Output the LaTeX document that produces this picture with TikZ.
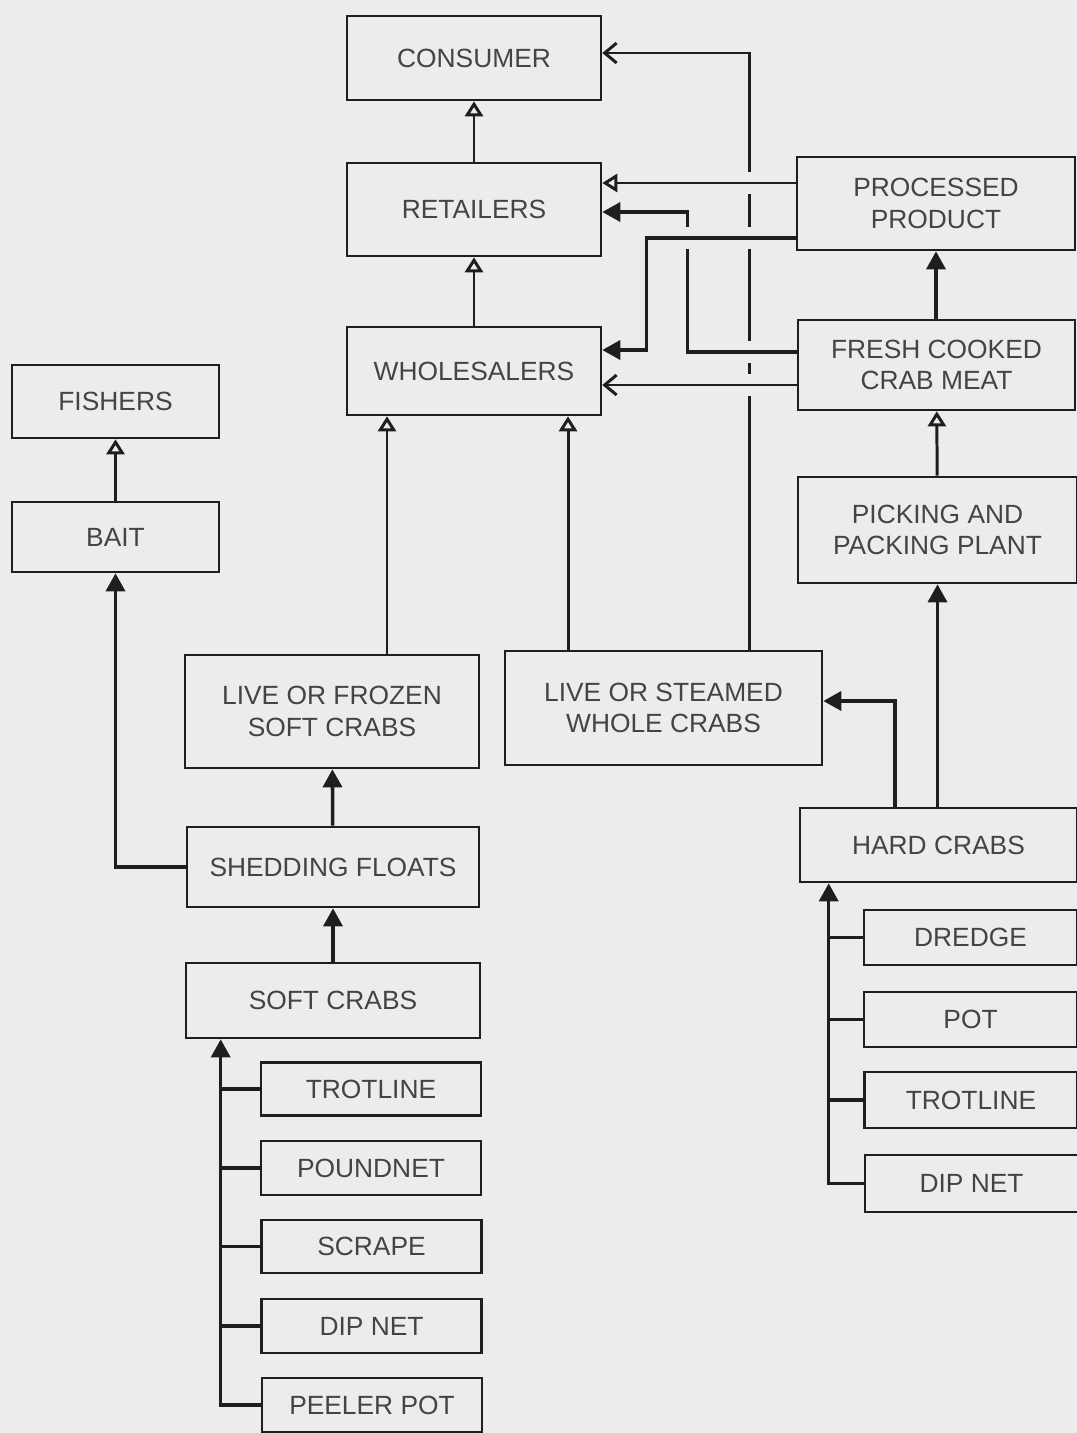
\documentclass[tikz,border=0pt]{standalone}
\usepackage{fontspec}
\setmainfont{Liberation Sans}
\usepackage{tikz}
\usetikzlibrary{arrows.meta, positioning, calc, backgrounds}
\definecolor{paper}{RGB}{236,236,236}
\definecolor{ink}{RGB}{30,30,30}
\definecolor{txt}{RGB}{68,68,68}
\tikzset{
  box/.style={rectangle, draw=ink, fill=paper, line width=1.5pt,
    align=center, inner sep=0pt, text=txt,
    font=\fontsize{15}{18}\selectfont},
  arrow/.style={-{Triangle[length=0.36cm, width=0.38cm]}, line width=2pt, color=ink},
  openarrow/.style={-{Triangle[open, length=0.3cm, width=0.36cm]}, line width=1.7pt, color=ink},
  barbarrow/.style={-{Straight Barb[length=0.24cm, width=0.4cm]}, line width=1.7pt, color=ink},
  line/.style={line width=2pt, color=ink},
  halo/.style={preaction={draw=paper, line width=12pt, -}}
}

\begin{document}
\begin{tikzpicture}[x=0.02cm, y=-0.02cm]
  \useasboundingbox (0,0) rectangle (1077,1433);

  % Market side
  \node[box, minimum width=5.08cm, minimum height=1.68cm] (consumer) at (474,58) {CONSUMER};
  \node[box, minimum width=5.08cm, minimum height=1.86cm] (retailers) at (474,209.5) {RETAILERS};
  \node[box, minimum width=5.08cm, minimum height=1.76cm] (wholesalers) at (474,371) {WHOLESALERS};
  \node[box, minimum width=5.56cm, minimum height=1.86cm] (processed) at (936,203.5) {PROCESSED\\PRODUCT};
  \node[box, minimum width=5.54cm, minimum height=1.80cm] (fresh) at (936.5,365) {FRESH COOKED\\CRAB MEAT};
  \node[box, minimum width=5.58cm, minimum height=2.12cm] (picking) at (937.5,530) {PICKING AND\\PACKING PLANT};
  \node[box, minimum width=4.14cm, minimum height=1.46cm] (fishers) at (115.5,401.5) {FISHERS};
  \node[box, minimum width=4.14cm, minimum height=1.40cm] (bait) at (115.5,537) {BAIT};

  % Soft crab side
  \node[box, minimum width=5.88cm, minimum height=2.26cm] (livefrozen) at (332,711.5) {LIVE OR FROZEN\\SOFT CRABS};
  \node[box, minimum width=5.84cm, minimum height=1.60cm] (shedding) at (333,867) {SHEDDING FLOATS};
  \node[box, minimum width=5.88cm, minimum height=1.50cm] (softcrabs) at (333,1000.5) {SOFT CRABS};
  \node[box, minimum width=4.40cm, minimum height=1.06cm] (trotS) at (371,1089) {TROTLINE};
  \node[box, minimum width=4.40cm, minimum height=1.08cm] (poundnet) at (371,1168) {POUNDNET};
  \node[box, minimum width=4.40cm, minimum height=1.06cm] (scrape) at (371.5,1246.5) {SCRAPE};
  \node[box, minimum width=4.40cm, minimum height=1.08cm] (dipS) at (371.5,1326) {DIP NET};
  \node[box, minimum width=4.40cm, minimum height=1.08cm] (peeler) at (372,1405) {PEELER POT};

  % Hard crab side
  \node[box, minimum width=6.34cm, minimum height=2.28cm] (livesteamed) at (663.5,708) {LIVE OR STEAMED\\WHOLE CRABS};
  \node[box, minimum width=5.54cm, minimum height=1.48cm] (hardcrabs) at (938.5,845) {HARD CRABS};
  \node[box, minimum width=4.26cm, minimum height=1.10cm] (dredge) at (970.5,937.5) {DREDGE};
  \node[box, minimum width=4.26cm, minimum height=1.10cm] (pot) at (970.5,1019.5) {POT};
  \node[box, minimum width=4.26cm, minimum height=1.12cm] (trotH) at (971,1100) {TROTLINE};
  \node[box, minimum width=4.26cm, minimum height=1.14cm] (dipH) at (971.5,1183.5) {DIP NET};

  \coordinate (sbus) at ([xshift=0.72cm]softcrabs.south west);
  \coordinate (hbus) at ([xshift=0.6cm]hardcrabs.south west);

  \begin{scope}[on background layer]
    \fill[paper] (0,0) rectangle (1077,1433);

    % Vertical flows
    \draw[openarrow] (retailers) -- (consumer);
    \draw[openarrow] (wholesalers) -- (retailers);
    \draw[openarrow] (bait) -- (fishers);
    \draw[arrow] (shedding.west) -| (bait.south);
    \draw[arrow] (shedding) -- (livefrozen);
    \draw[arrow] (softcrabs) -- (shedding);
    \draw[openarrow] ([xshift=1.1cm]livefrozen.north) -- ([xshift=1.1cm]livefrozen.north |- wholesalers.south);
    \draw[openarrow] ([xshift=-1.91cm]livesteamed.north) -- ([xshift=-1.91cm]livesteamed.north |- wholesalers.south);
    \draw[arrow] (fresh.north -| processed.south) -- (processed.south);
    \draw[openarrow] (picking) -- (fresh);
    \draw[arrow] (hardcrabs.north -| picking.south) -- (picking.south);
    \draw[arrow] ([xshift=-0.87cm]hardcrabs.north) |- ([yshift=0.14cm]livesteamed.east);

    % Whole crabs straight to consumer
    \draw[barbarrow] ([xshift=1.73cm]livesteamed.north) |- ([yshift=0.1cm]consumer.east);

    % Crossing flows, gaps left in the lines under them
    \draw[arrow, halo] ([yshift=0.26cm]fresh.west) -- ++(-109,0) |- ([yshift=-0.05cm]retailers.east);
    \draw[arrow, halo] ([yshift=-0.69cm]processed.west) -- ++(-149,0) |- ([yshift=0.42cm]wholesalers.east);
    \draw[openarrow, halo] ([yshift=0.41cm]processed.west) -- ([yshift=0.41cm]processed.west -| retailers.east);
    \draw[barbarrow, halo] ([yshift=-0.4cm]fresh.west) -- ([yshift=-0.4cm]fresh.west -| wholesalers.east);

    % Gear for soft crabs
    \draw[arrow] (peeler.west) -| (sbus);
    \draw[line] (trotS.west) -- (trotS.west -| sbus);
    \draw[line] (poundnet.west) -- (poundnet.west -| sbus);
    \draw[line] (scrape.west) -- (scrape.west -| sbus);
    \draw[line] (dipS.west) -- (dipS.west -| sbus);

    % Gear for hard crabs
    \draw[arrow] (dipH.west) -| (hbus);
    \draw[line] (dredge.west) -- (dredge.west -| hbus);
    \draw[line] (pot.west) -- (pot.west -| hbus);
    \draw[line] (trotH.west) -- (trotH.west -| hbus);
  \end{scope}
\end{tikzpicture}
\end{document}
